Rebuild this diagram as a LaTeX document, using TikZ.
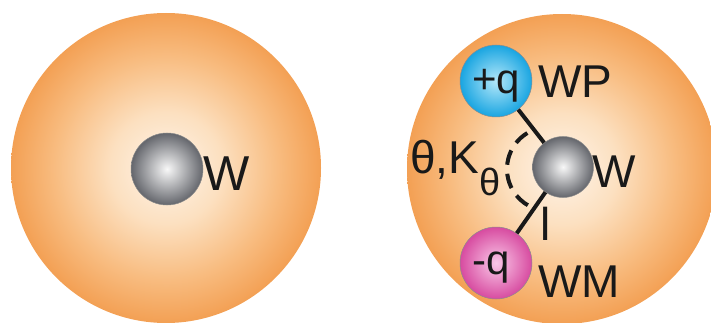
\documentclass[tikz,border=0pt]{standalone}
\usepackage{fontspec}
\setmainfont{Liberation Sans}
\definecolor{oc0}{RGB}{254,244,234}
\definecolor{oc1}{RGB}{252,224,192}
\definecolor{oc2}{RGB}{248,188,128}
\definecolor{oc3}{RGB}{243,160,84}
\definecolor{gc0}{RGB}{248,248,248}
\definecolor{gc1}{RGB}{100,102,108}
\definecolor{bc0}{RGB}{180,232,250}
\definecolor{bc1}{RGB}{25,165,225}
\definecolor{pc0}{RGB}{250,200,232}
\definecolor{pc1}{RGB}{215,75,160}
\pgfdeclareradialshading{orangeglow}{\pgfpoint{0bp}{0bp}}{color(0bp)=(oc0); color(9bp)=(oc1); color(18bp)=(oc2); color(25bp)=(oc3); color(50bp)=(oc3)}
\pgfdeclareradialshading{grayball}{\pgfpoint{0bp}{0bp}}{color(0bp)=(gc0); color(25bp)=(gc1); color(50bp)=(gc1)}
\pgfdeclareradialshading{blueball}{\pgfpoint{0bp}{0bp}}{color(0bp)=(bc0); color(25bp)=(bc1); color(50bp)=(bc1)}
\pgfdeclareradialshading{pinkball}{\pgfpoint{0bp}{0bp}}{color(0bp)=(pc0); color(25bp)=(pc1); color(50bp)=(pc1)}
\tikzset{
  x=1pt, y=-1pt,
  glow/.style={circle, inner sep=0pt, minimum size=310pt, shading=orangeglow},
  atom/.style={circle, inner sep=0pt, draw=black!45, line width=0.5pt},
  bond/.style={line width=4pt, black!90},
  lbl/.style={inner sep=0pt, anchor=base west, font=\fontsize{46}{46}\selectfont, text=black!90},
}
\begin{document}
\begin{tikzpicture}
\useasboundingbox (0,0) rectangle (711,323);
\begin{scope}
\clip (0,0) rectangle (711,323);
% left
\node[glow] (g1) at (166,168) {};
\node[atom, minimum size=72pt, shading=grayball] (w1) at (167,169) {};
\node[lbl, font=\fontsize{49}{49}\selectfont] (lw1) at (203,190) {W};
% right
\node[glow] (g2) at (562,169) {};
\node[atom, minimum size=61pt, shading=grayball] (w2) at (563,167) {};
\node[atom, minimum size=72pt, shading=blueball] (wp) at (496,81) {};
\node[atom, minimum size=72pt, shading=pinkball] (wm) at (496,263) {};
\draw[bond] (w2) -- (wp);
\draw[bond] (w2) -- (wm);
\coordinate (ac) at (549,169);
\draw[line width=4pt, black!90, dash pattern=on 15pt off 9pt] ([shift={(121:42pt)}]ac) arc[start angle=121, end angle=242, radius=42pt];
\node[inner sep=0pt, anchor=base, font=\fontsize{42}{42}\selectfont, text=black!90] (pq) at (496,94) {+q};
\node[inner sep=0pt, anchor=base, font=\fontsize{42}{42}\selectfont, text=black!90] (mq) at (491,274) {-q};
\node[lbl] (lwp) at (538,98) {WP};
\node[lbl] (lwm) at (538,297) {WM};
\node[lbl] (lw2) at (592,187) {W};
\node[lbl] (ll) at (540,240) {l};
\node[lbl] (lth) at (410,173) {θ,K};
\node[lbl, font=\fontsize{38}{38}\selectfont] (lsub) at (479,195) {θ};
\end{scope}
\end{tikzpicture}
\end{document}
